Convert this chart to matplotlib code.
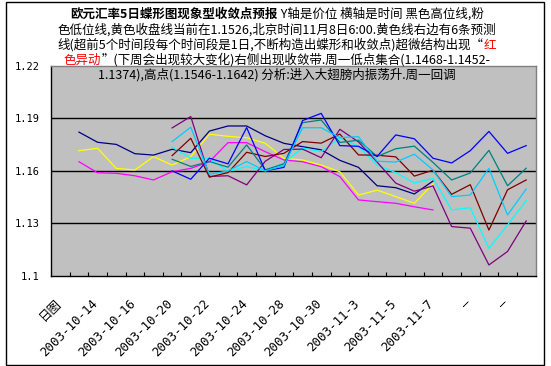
import numpy as np
import matplotlib
matplotlib.use('Agg')
import matplotlib.pyplot as plt
import matplotlib.transforms as mtransforms
from matplotlib.patches import Rectangle

plt.rcParams['font.family'] = ['Noto Sans CJK SC', 'DejaVu Sans']

nan = np.nan

# categories: 日图 + trading days + 5 projected periods
categories = ['日图', '2003-10-13', '2003-10-14', '2003-10-15', '2003-10-16', '2003-10-17',
              '2003-10-20', '2003-10-21', '2003-10-22', '2003-10-23', '2003-10-24',
              '2003-10-27', '2003-10-28', '2003-10-29', '2003-10-30', '2003-10-31',
              '2003-11-3', '2003-11-4', '2003-11-5', '2003-11-6', '2003-11-7',
              '—', '—', '—', '—', '—']

high = [nan, 1.1821, 1.1763, 1.1751, 1.1698, 1.1690, 1.1723, 1.1704, 1.1827, 1.1856, 1.1856,
        1.1800, 1.1757, 1.1738, 1.1720, 1.1660, 1.1620, 1.1515, 1.1504, 1.1468, 1.1542,
        nan, nan, nan, nan, nan]
low = [nan, 1.1652, 1.1589, 1.1586, 1.1572, 1.1548, 1.1595, 1.1614, 1.1652, 1.1761, 1.1761,
       1.1709, 1.1662, 1.1652, 1.1624, 1.1567, 1.1434, 1.1424, 1.1415, 1.1395, 1.1377,
       nan, nan, nan, nan, nan]
close = [nan, 1.1715, 1.1729, 1.1614, 1.1605, 1.1681, 1.1633, 1.1681, 1.1809, 1.1797, 1.1789,
         1.1757, 1.1672, 1.1662, 1.1633, 1.1595, 1.1462, 1.1490, 1.1453, 1.1415, 1.1526,
         nan, nan, nan, nan, nan]

# six forecast lines, starting at 2003-10-20
pre = [nan] * 6
f_cyan = pre + [1.1735, 1.1672, 1.1672, 1.1596, 1.1625, 1.1600, 1.1645, 1.1730, 1.1710, 1.1787,
                1.1740, 1.1633, 1.1590, 1.1531, 1.1557, 1.1377, 1.1390, 1.1158, 1.1292, 1.1429]
f_purple = pre + [1.1845, 1.1910, 1.1568, 1.1572, 1.1520, 1.1655, 1.1722, 1.1724, 1.1675, 1.1837,
                  1.1765, 1.1650, 1.1530, 1.1484, 1.1514, 1.1282, 1.1273, 1.1063, 1.1140, 1.1314]
f_maroon = pre + [1.1687, 1.1786, 1.1564, 1.1590, 1.1706, 1.1682, 1.1700, 1.1767, 1.1758, 1.1810,
                  1.1691, 1.1689, 1.1680, 1.1570, 1.1604, 1.1466, 1.1521, 1.1262, 1.1492, 1.1548]
f_teal = pre + [1.1666, 1.1625, 1.1653, 1.1621, 1.1748, 1.1606, 1.1640, 1.1875, 1.1890, 1.1762,
                1.1775, 1.1682, 1.1726, 1.1741, 1.1648, 1.1548, 1.1588, 1.1717, 1.1515, 1.1615]
f_blue = pre + [1.1600, 1.1552, 1.1672, 1.1640, 1.1847, 1.1600, 1.1620, 1.1887, 1.1928, 1.1744,
                1.1740, 1.1682, 1.1805, 1.1783, 1.1672, 1.1645, 1.1715, 1.1825, 1.1700, 1.1744]
f_sky = pre + [1.1767, 1.1849, 1.1580, 1.1600, 1.1653, 1.1600, 1.1630, 1.1846, 1.1846, 1.1790,
               1.1795, 1.1655, 1.1650, 1.1695, 1.1605, 1.1453, 1.1462, 1.1614, 1.1348, 1.1496]

series = [(high, '#000080'), (low, '#FF00FF'), (close, '#FFFF00'),
          (f_cyan, '#00FFFF'), (f_purple, '#800080'), (f_maroon, '#800000'),
          (f_teal, '#008080'), (f_blue, '#0000FF'), (f_sky, '#00CCFF')]

y_ticks = [1.1, 1.13, 1.16, 1.19, 1.22]
y_labels = ['1.1', '1.13', '1.16', '1.19', '1.22']

title_lines = [
    [('欧元汇率5日蝶形图现象型收敛点预报', 'black', 'bold'),
     (' Y轴是价位 横轴是时间 黑色高位线,粉', 'black', 'normal')],
    [('色低位线,黄色收盘线当前在1.1526,北京时间11月8日6:00.黄色线右边有6条预测', 'black', 'normal')],
    [('线(超前5个时间段每个时间段是1日,不断构造出蝶形和收敛点)超微结构出现“', 'black', 'normal'),
     ('红', 'red', 'normal')],
    [('色异动', 'red', 'normal'),
     ('”(下周会出现较大变化)右侧出现收敛带.周一低点集合(1.1468-1.1452-', 'black', 'normal')],
    [('1.1374),高点(1.1546-1.1642) 分析:进入大翅膀内振荡升.周一回调', 'black', 'normal')],
]

W, H = 551, 366
fig = plt.figure(figsize=(W / 100, H / 100), dpi=100)
ax = fig.add_axes([51 / W, 1 - 276 / H, 484.5 / W, 210.3 / H])
ax.set_facecolor('#C0C0C0')

x = np.arange(len(categories))
for vals, color in series:
    ax.plot(x, vals, color=color, lw=0.9, zorder=3)

for yv in y_ticks[1:-1]:
    ax.axhline(yv, color='black', lw=1.0, zorder=1)

ax.set_xlim(-0.5, len(categories) - 0.5)
ax.set_ylim(1.1, 1.22)
ax.set_yticks(y_ticks)
ax.set_yticklabels(y_labels, family='DejaVu Sans Mono', fontsize=7.5)
ax.tick_params(axis='y', length=0, pad=8)

ax.set_xticks(np.arange(0.5, len(categories) - 1, 1))
ax.set_xticklabels([])
ax.tick_params(axis='x', which='major', direction='in', length=2.7, width=0.8)
ax.set_xticks(x[::2], minor=True)
ax.set_xticklabels([categories[i] for i in x[::2]], minor=True, rotation=45, ha='right',
                   va='top', rotation_mode='anchor', fontsize=9,
                   family=['DejaVu Sans Mono', 'Noto Sans CJK SC'])
ax.tick_params(axis='x', which='minor', length=0, pad=15)
shift = mtransforms.ScaledTranslation(-6 / 100, 0, fig.dpi_scale_trans)
for lbl in ax.get_xticklabels(minor=True):
    lbl.set_transform(lbl.get_transform() + shift)

for side in ['left', 'bottom']:
    ax.spines[side].set_color('black')
    ax.spines[side].set_linewidth(1.0)
for side in ['top', 'right']:
    ax.spines[side].set_color('#808080')
    ax.spines[side].set_linewidth(1.0)

# title lines, centred, with mixed colours
renderer = fig.canvas.get_renderer()
line_y = [14, 30, 45, 60, 75]
for segs, yc in zip(title_lines, line_y):
    texts = []
    xpos = 0
    for s, c, w in segs:
        t = fig.text(xpos, H - yc, s, color=c, fontweight=w, fontsize=9, va='center',
                     ha='left', transform=mtransforms.IdentityTransform(), zorder=5)
        xpos += t.get_window_extent(renderer).width
        texts.append(t)
    off = 277 - xpos / 2
    for t in texts:
        t.set_x(t.get_position()[0] + off)

fig.patches.append(Rectangle((5.5 / W, 1.5 / H), (544 - 5.5) / W, 363 / H,
                             transform=fig.transFigure, fill=False, ec='black', lw=1.0))

fig.savefig('out.png', dpi=100)
